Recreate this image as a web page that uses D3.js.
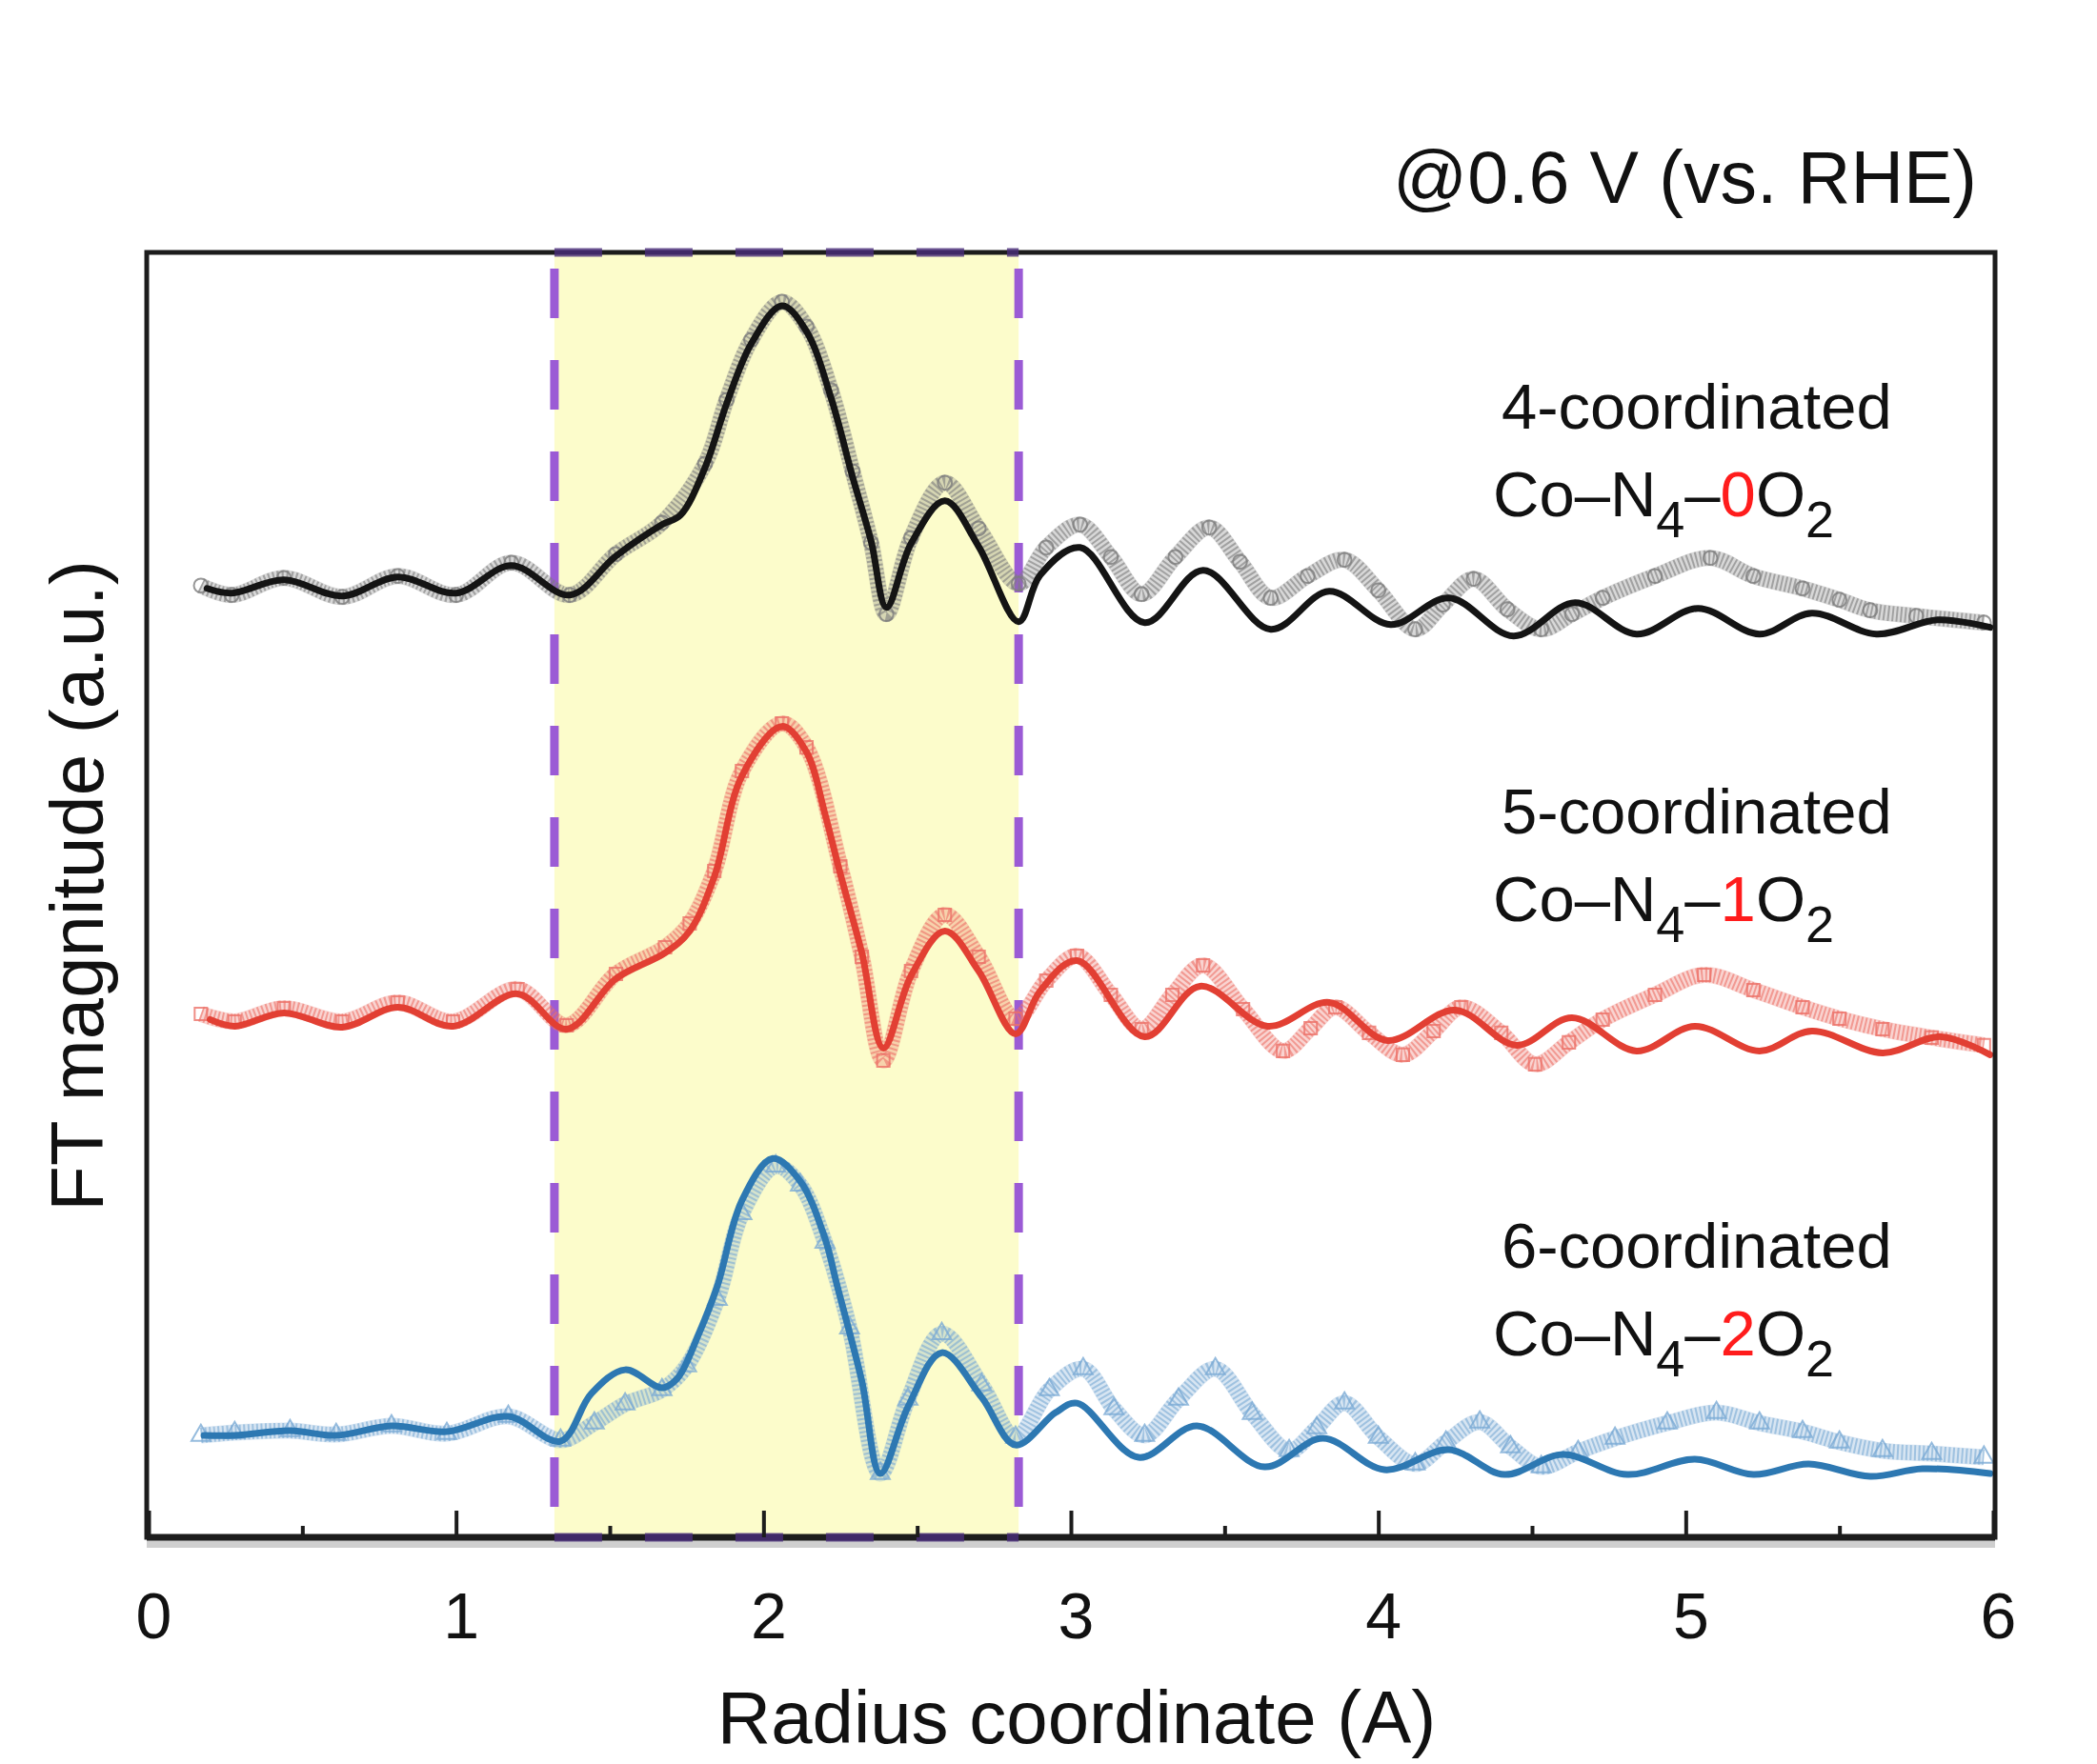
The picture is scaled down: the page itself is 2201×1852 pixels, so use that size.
<!DOCTYPE html>
<html>
<head>
<meta charset="utf-8">
<script src="https://cdn.jsdelivr.net/npm/d3@7"></script>
<style>
  body { margin: 0; background: #fff; }
  svg text { font-family: "Liberation Sans", Arial, Helvetica, sans-serif; }
</style>
</head>
<body>
<div class="chart"></div>
<script>
// ---- data (radius in A, FT magnitude in a.u., curves already stacked) ----
const xTicks = [0, 1, 2, 3, 4, 5, 6];
const xMinorTicks = [0.5, 1.5, 2.5, 3.5, 4.5, 5.5];
const firstShell = [1.32, 2.83];

const labels = ["4-coordinated", "5-coordinated", "6-coordinated"];
const o2Counts = ["0", "1", "2"];

const fit4 = [[0.19,9.97],[0.27,9.92],[0.44,10.06],[0.63,9.89],[0.81,10.09],[1.00,9.92],[1.18,10.21],[1.37,9.90],
  [1.52,10.31],[1.67,10.64],[1.73,10.74],[1.81,11.24],[1.88,11.91],[1.96,12.54],[2.06,12.94],[2.14,12.67],
  [2.22,11.97],[2.29,11.14],[2.35,10.47],[2.40,9.77],[2.48,10.44],[2.59,10.89],[2.70,10.41],[2.83,9.62],
  [2.90,10.11],[3.03,10.40],[3.24,9.61],[3.43,10.16],[3.65,9.54],[3.84,9.94],[4.04,9.59],[4.23,9.87],
  [4.44,9.47],[4.64,9.82],[4.84,9.49],[5.04,9.76],[5.24,9.49],[5.41,9.71],[5.62,9.49],[5.82,9.64],[5.99,9.56]];
const exp4 = [[0.17,10.00],[0.27,9.90],[0.44,10.08],[0.63,9.88],[0.81,10.10],[1.00,9.90],[1.18,10.24],[1.37,9.90],
  [1.52,10.33],[1.67,10.66],[1.81,11.28],[1.88,11.95],[1.96,12.58],[2.06,12.98],[2.14,12.72],[2.22,12.05],
  [2.29,11.20],[2.35,10.45],[2.40,9.70],[2.48,10.50],[2.59,11.08],[2.70,10.60],[2.83,10.02],[2.92,10.40],
  [3.03,10.64],[3.13,10.30],[3.23,9.91],[3.34,10.30],[3.45,10.61],[3.55,10.25],[3.65,9.87],[3.77,10.10],
  [3.89,10.27],[4.00,9.95],[4.12,9.54],[4.21,9.80],[4.31,10.07],[4.42,9.75],[4.53,9.54],[4.63,9.70],
  [4.73,9.87],[4.90,10.10],[5.08,10.29],[5.22,10.10],[5.38,9.97],[5.50,9.85],[5.60,9.74],[5.75,9.68],[5.97,9.61]];

const fit5 = [[0.20,5.44],[0.28,5.37],[0.44,5.51],[0.63,5.36],[0.81,5.57],[0.99,5.37],[1.20,5.71],[1.36,5.34],
  [1.52,5.87],[1.68,6.14],[1.76,6.37],[1.84,6.94],[1.93,8.00],[2.06,8.52],[2.14,8.25],[2.20,7.60],
  [2.25,6.97],[2.32,6.14],[2.39,5.14],[2.48,5.90],[2.59,6.37],[2.70,5.95],[2.82,5.29],[2.90,5.74],
  [3.02,6.06],[3.24,5.26],[3.42,5.79],[3.64,5.37],[3.84,5.62],[4.03,5.22],[4.25,5.54],[4.45,5.17],
  [4.63,5.46],[4.84,5.11],[5.03,5.37],[5.24,5.11],[5.41,5.32],[5.64,5.09],[5.83,5.26],[5.99,5.07]];
const exp5 = [[0.17,5.50],[0.28,5.42],[0.44,5.56],[0.63,5.42],[0.81,5.62],[0.99,5.42],[1.20,5.76],[1.36,5.38],
  [1.52,5.92],[1.68,6.20],[1.76,6.45],[1.84,7.00],[1.93,8.05],[2.06,8.55],[2.14,8.30],[2.25,7.05],
  [2.32,6.10],[2.39,5.01],[2.48,5.95],[2.59,6.54],[2.70,6.10],[2.82,5.45],[2.92,5.85],[3.02,6.11],
  [3.13,5.70],[3.23,5.34],[3.33,5.70],[3.43,6.01],[3.56,5.55],[3.69,5.11],[3.78,5.35],[3.86,5.57],
  [3.97,5.30],[4.08,5.07],[4.18,5.32],[4.27,5.57],[4.40,5.30],[4.51,4.97],[4.62,5.20],[4.73,5.44],
  [4.90,5.70],[5.06,5.91],[5.22,5.75],[5.38,5.57],[5.50,5.45],[5.64,5.34],[5.80,5.25],[5.97,5.17]];

const fit6 = [[0.18,1.07],[0.28,1.07],[0.46,1.12],[0.61,1.07],[0.79,1.17],[0.97,1.11],[1.17,1.27],[1.34,1.01],
  [1.44,1.51],[1.55,1.76],[1.67,1.57],[1.72,1.67],[1.79,2.14],[1.85,2.64],[1.93,3.54],[2.03,3.98],
  [2.12,3.74],[2.20,3.14],[2.24,2.64],[2.32,1.64],[2.38,0.67],[2.47,1.37],[2.58,1.94],[2.71,1.47],
  [2.82,0.97],[2.95,1.31],[3.02,1.41],[3.22,0.84],[3.41,1.17],[3.63,0.74],[3.82,1.04],[4.02,0.71],
  [4.23,0.92],[4.41,0.66],[4.60,0.87],[4.81,0.66],[5.03,0.82],[5.22,0.66],[5.40,0.77],[5.60,0.64],
  [5.77,0.72],[5.99,0.67]];
const exp6 = [[0.17,1.07],[0.28,1.10],[0.46,1.12],[0.61,1.08],[0.79,1.17],[0.97,1.09],[1.17,1.27],[1.34,1.02],
  [1.45,1.20],[1.55,1.40],[1.67,1.55],[1.75,1.80],[1.85,2.50],[1.93,3.40],[2.04,3.90],[2.12,3.70],
  [2.20,3.10],[2.28,2.20],[2.38,0.67],[2.47,1.45],[2.58,2.14],[2.71,1.60],[2.82,1.05],[2.93,1.55],
  [3.04,1.77],[3.14,1.35],[3.24,1.07],[3.35,1.45],[3.47,1.77],[3.59,1.30],[3.71,0.91],[3.80,1.15],
  [3.89,1.41],[4.00,1.05],[4.12,0.77],[4.22,1.00],[4.33,1.21],[4.43,0.95],[4.53,0.74],[4.65,0.90],
  [4.77,1.04],[4.94,1.20],[5.10,1.31],[5.24,1.20],[5.38,1.11],[5.50,1.00],[5.64,0.91],[5.80,0.88],[5.97,0.84]];

// ---- layout ----
const WIDTH = 2201, HEIGHT = 1852;
const PLOT = { LEFT: 156, RIGHT: 2092, TOP: 265, BOTTOM: 1614, FRAME_L: 154, FRAME_R: 2094 };
const FONT = "'Liberation Sans', Arial, Helvetica, sans-serif";

const series = [
  { fit: fit4, exp: exp4, line: "#141414", marker: "#7d7d7d", symbol: d3.symbolCircle, label: labels[0], count: o2Counts[0], y1: 450 },
  { fit: fit5, exp: exp5, line: "#e23f33", marker: "#ec7168", symbol: d3.symbolSquare, label: labels[1], count: o2Counts[1], y1: 875 },
  { fit: fit6, exp: exp6, line: "#2d78b2", marker: "#7aaad4", symbol: d3.symbolTriangle, label: labels[2], count: o2Counts[2], y1: 1331 }
];

const svg = d3.select(".chart").append("svg").attr("width", WIDTH).attr("height", HEIGHT);
svg.append("rect").attr("width", WIDTH).attr("height", HEIGHT).attr("fill", "#fff");

const x = d3.scaleLinear().domain([0, 6]).range([PLOT.LEFT, PLOT.RIGHT]);
const y = d3.scaleLinear().domain([0, 13.5]).range([PLOT.BOTTOM, PLOT.TOP]);

// first-shell highlight
svg.append("rect")
  .attr("x", x(firstShell[0])).attr("y", PLOT.TOP)
  .attr("width", x(firstShell[1]) - x(firstShell[0])).attr("height", PLOT.BOTTOM - PLOT.TOP)
  .attr("fill", "#fcfccb");

svg.selectAll(".shell-line").data(firstShell).join("line")
  .attr("class", "shell-line")
  .attr("x1", d => x(d)).attr("x2", d => x(d))
  .attr("y1", PLOT.TOP).attr("y2", PLOT.BOTTOM)
  .attr("stroke", "#9b5bd5").attr("stroke-width", 9)
  .attr("stroke-dasharray", "52 44").attr("stroke-dashoffset", 79);

// curves
const line = d3.line().x(d => x(d[0])).y(d => y(d[1])).curve(d3.curveCatmullRom.alpha(0.5));

series.forEach(s => {
  const g = svg.append("g");

  // experimental points: dense open markers that overlap into a band
  g.append("path").attr("d", line(s.exp))
    .attr("fill", "none").attr("stroke", s.marker).attr("stroke-width", 17)
    .attr("stroke-opacity", 0.3).attr("stroke-linejoin", "round");
  g.append("path").attr("d", line(s.exp))
    .attr("fill", "none").attr("stroke", s.marker).attr("stroke-width", 16)
    .attr("stroke-opacity", 0.6).attr("stroke-dasharray", "2 2.5");
  g.selectAll(".pt").data(s.exp).join("path")
    .attr("class", "pt")
    .attr("transform", d => `translate(${x(d[0])},${y(d[1])})`)
    .attr("d", d3.symbol().type(s.symbol).size(170))
    .attr("fill", "none").attr("stroke", s.marker).attr("stroke-width", 2).attr("stroke-opacity", 0.8);

  // fit
  g.append("path").attr("d", line(s.fit))
    .attr("fill", "none").attr("stroke", s.line).attr("stroke-width", 7)
    .attr("stroke-linejoin", "round").attr("stroke-linecap", "round");
});

// frame
svg.append("line")
  .attr("x1", PLOT.FRAME_L).attr("x2", PLOT.FRAME_R).attr("y1", PLOT.BOTTOM + 7).attr("y2", PLOT.BOTTOM + 7)
  .attr("stroke", "#cfcfcf").attr("stroke-width", 8);
svg.append("rect")
  .attr("x", PLOT.FRAME_L).attr("y", PLOT.TOP)
  .attr("width", PLOT.FRAME_R - PLOT.FRAME_L).attr("height", PLOT.BOTTOM - PLOT.TOP)
  .attr("fill", "none").attr("stroke", "#1c1c1c").attr("stroke-width", 5);
svg.append("line")
  .attr("x1", PLOT.FRAME_L).attr("x2", PLOT.FRAME_R).attr("y1", PLOT.BOTTOM).attr("y2", PLOT.BOTTOM)
  .attr("stroke", "#1c1c1c").attr("stroke-width", 7);

// dashed top/bottom edges of the highlight over the frame
[PLOT.TOP, PLOT.BOTTOM].forEach(yy => {
  svg.append("line")
    .attr("x1", x(firstShell[0])).attr("x2", x(firstShell[1]))
    .attr("y1", yy).attr("y2", yy)
    .attr("stroke", "#4a2d7a").attr("stroke-width", 9).attr("stroke-opacity", 0.8)
    .attr("stroke-dasharray", "50 45");
});

// x axis (ticks point inward)
const xAxis = svg.append("g")
  .attr("transform", `translate(0,${PLOT.BOTTOM})`)
  .call(d3.axisBottom(x).tickValues(xTicks).tickSize(-28).tickPadding(58).tickFormat(d3.format("d")));
xAxis.select(".domain").remove();
xAxis.selectAll(".tick line").attr("stroke", "#1c1c1c").attr("stroke-width", 4);
xAxis.selectAll(".tick text")
  .attr("font-size", 68).attr("font-family", FONT).attr("fill", "#111").attr("dx", 5);

const xMinor = svg.append("g")
  .attr("transform", `translate(0,${PLOT.BOTTOM})`)
  .call(d3.axisBottom(x).tickValues(xMinorTicks).tickSize(-12).tickFormat(""));
xMinor.select(".domain").remove();
xMinor.selectAll(".tick line").attr("stroke", "#1c1c1c").attr("stroke-width", 4);

// axis titles
svg.append("text")
  .attr("x", 1130).attr("y", 1830)
  .attr("text-anchor", "middle").attr("font-size", 78).attr("fill", "#111")
  .text("Radius coordinate (A)");

svg.append("text")
  .attr("transform", "translate(108,930) rotate(-90)")
  .attr("text-anchor", "middle").attr("font-size", 78).attr("fill", "#111")
  .text("FT magnitude (a.u.)");

svg.append("text")
  .attr("x", 2075).attr("y", 213)
  .attr("text-anchor", "end").attr("font-size", 77).attr("fill", "#111")
  .text("@0.6 V (vs. RHE)");

// series labels
series.forEach(s => {
  svg.append("text")
    .attr("x", 1576).attr("y", s.y1)
    .attr("font-size", 67).attr("fill", "#111")
    .text(s.label);

  const t = svg.append("text")
    .attr("x", 1567).attr("y", s.y1 + 92)
    .attr("font-size", 67).attr("fill", "#111");
  t.append("tspan").text("Co–N");
  t.append("tspan").attr("font-size", 54).attr("dy", 22).text("4");
  t.append("tspan").attr("dy", -22).text("–");
  t.append("tspan").attr("fill", "#ff1c1c").text(s.count);
  t.append("tspan").text("O");
  t.append("tspan").attr("font-size", 54).attr("dy", 22).text("2");
});
</script>
</body>
</html>
